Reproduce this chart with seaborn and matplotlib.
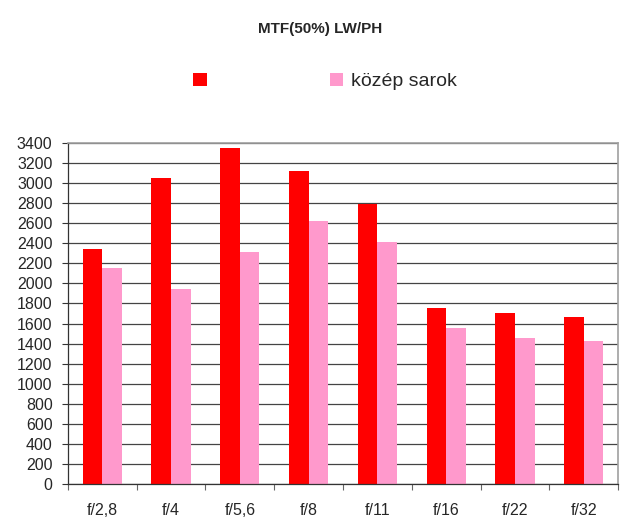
import matplotlib
matplotlib.use("Agg")
import matplotlib.pyplot as plt
import seaborn as sns
import pandas as pd
from matplotlib.patches import Patch

apertures = ["f/2,8", "f/4", "f/5,6", "f/8", "f/11", "f/16", "f/22", "f/32"]
kozep = [2340, 3050, 3350, 3120, 2790, 1750, 1700, 1670]
sarok = [2150, 1940, 2310, 2620, 2410, 1560, 1460, 1430]
series_names = ["közép", "sarok"]
legend_labels = ["", "közép sarok"]
colors = ["#ff0000", "#ff99cc"]

df = pd.DataFrame({
    "aperture": apertures * 2,
    "mtf": kozep + sarok,
    "series": [series_names[0]] * len(apertures) + [series_names[1]] * len(apertures),
})

sns.set_style("white")
plt.rcParams["font.family"] = ["Liberation Sans", "DejaVu Sans"]

fig = plt.figure(figsize=(6.4, 5.3), dpi=100)
ax = fig.add_axes([0.106, 0.087, 0.860, 0.643])

sns.barplot(
    data=df, x="aperture", y="mtf", hue="series",
    palette=colors, width=0.57, linewidth=0,
    saturation=1, legend=False, ax=ax,
)

ax.set_ylim(0, 3400)
ax.set_xlim(-0.5, len(apertures) - 0.5)
ax.set_yticks(range(0, 3401, 200))
ax.yaxis.grid(True, color="#444444", linewidth=0.9)
ax.set_axisbelow(True)
ax.tick_params(axis="y", labelsize=11.5, length=4, width=0.8, pad=7,
               left=True, color="#333333")

# category labels in the middle, tick marks between groups
ax.set_xticks([i - 0.5 for i in range(len(apertures) + 1)])
ax.set_xticklabels([])
ax.set_xticks(range(len(apertures)), minor=True)
ax.set_xticklabels(apertures, minor=True)
ax.tick_params(axis="x", which="major", length=4, width=0.8,
               bottom=True, color="#666666")
ax.tick_params(axis="x", which="minor", length=0, labelsize=11.5, pad=14)

ax.set_xlabel("")
ax.set_ylabel("")

for side in ["left", "bottom"]:
    ax.spines[side].set_color("#333333")
    ax.spines[side].set_linewidth(0.9)
for side in ["top", "right"]:
    ax.spines[side].set_color("#a0a0a0")
    ax.spines[side].set_linewidth(1.2)

fig.text(0.5, 0.945, "MTF(50%) LW/PH", ha="center", va="center",
         fontsize=11, fontweight="bold")

handles = [Patch(facecolor=c, edgecolor="none") for c in colors]
fig.legend(
    handles, legend_labels, loc="center", bbox_to_anchor=(0.508, 0.846),
    ncol=2, frameon=False, fontsize=14, handlelength=0.7, handleheight=0.7,
    handletextpad=0.4, columnspacing=5.9,
)

fig.savefig("out.png", dpi=100)
